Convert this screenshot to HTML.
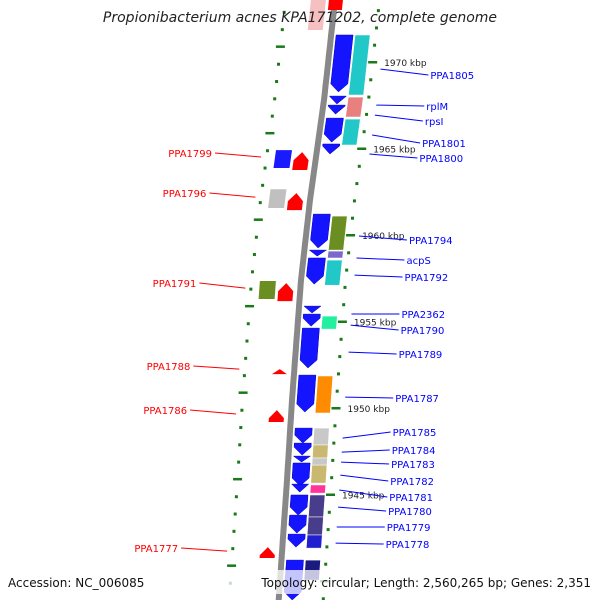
<!DOCTYPE html>
<html><head><meta charset="utf-8"><style>
html,body{margin:0;padding:0;background:#fff}
svg{display:block;font-family:"DejaVu Sans","Liberation Sans",sans-serif}
</style></head><body>
<svg id="map" width="600" height="600" viewBox="0 0 600 600">
<g id="ticks"></g>
<path id="backbone" fill="none" stroke="#888" stroke-width="6"/>
<g id="genes"></g>
<g id="labels"></g>
<text x="300" y="22" text-anchor="middle" font-size="14" font-style="italic" fill="#222">Propionibacterium acnes KPA171202, complete genome</text>
<rect x="0" y="570" width="600" height="24" fill="#fff" fill-opacity="0.75"/>
<text x="8" y="587" font-size="12" fill="#111">Accession: NC_006085</text>
<text x="591" y="587" font-size="12" text-anchor="end" fill="#111">Topology: circular; Length: 2,560,265 bp; Genes: 2,351</text>
</svg>
<script>
// reverse-strand genes (kbp)
const revStart=[1971.56,1968.03,1967.51,1966.76,1965.26,1961.21,1959.13,1958.67,1955.89,1955.43,1954.62,1951.90,1948.84,1947.97,1947.22,1946.82,1945.60,1944.97,1943.81,1942.71,1941.21];
const revEnd  =[1968.27,1967.57,1966.99,1965.37,1964.68,1959.25,1958.78,1957.16,1955.49,1954.73,1952.31,1949.77,1947.97,1947.28,1946.88,1945.49,1945.14,1943.81,1942.77,1941.96,1938.90];
// reverse-strand feature boxes (kbp)
const boxStart=[1971.56,1967.97,1966.70,1961.09,1959.07,1958.55,1955.31,1951.85,1948.84,1947.86,1947.11,1946.70,1945.55,1944.97,1943.70,1942.66,1941.21];
const boxEnd  =[1968.09,1966.82,1965.20,1959.13,1958.67,1957.10,1954.56,1949.71,1947.86,1947.11,1946.70,1945.66,1945.08,1943.70,1942.66,1941.90,1940.05];
const boxColor=["#22c8c8","#e88080","#22c8c8","#6b8e23","#7b68cc","#22c8c8","#22f0a0","#ff8c00","#c8c8c8","#c8b870","#c8c8c8","#c8b870","#ff3399","#483d8b","#483d8b","#2020d0","#1a1a80"];
// forward-strand genes (kbp)
const fwdStart=[1964.79,1962.42,1957.22,1952.25,1949.88,1941.96];
const fwdEnd  =[1963.76,1961.44,1956.18,1951.96,1949.19,1941.33];
// forward-strand feature boxes
const fboxStart=[1964.91,1962.65,1957.34];
const fboxEnd  =[1963.87,1961.56,1956.30];
const fboxColor=["#1a1aff","#c0c0c0","#6b8e23"];
const kbpLabels=[1970,1965,1960,1955,1950,1945];
const rightLabels=["PPA1805","rplM","rpsI","PPA1801","PPA1800","PPA1794","acpS","PPA1792","PPA2362","PPA1790","PPA1789","PPA1787","PPA1785","PPA1784","PPA1783","PPA1782","PPA1781","PPA1780","PPA1779","PPA1778"];
const rightLabelKbp=[1969.59,1967.51,1966.93,1965.78,1964.68,1959.94,1958.67,1957.68,1955.43,1954.79,1953.23,1950.63,1948.26,1947.45,1946.87,1946.12,1945.26,1944.27,1943.12,1942.19];
const rightTextY=[75,106,121,143,158,240,260,277,314,330,354,398,432,450,464,481,497,511,527,544];
const leftLabels=["PPA1799","PPA1796","PPA1791","PPA1788","PPA1786","PPA1777"];
const leftLabelKbp=[1964.51,1962.19,1956.93,1952.25,1949.65,1941.73];
const leftTextY=[153,193,283,366,410,548];

const NS='http://www.w3.org/2000/svg';
const BY=[-10,0,100,200,280,400,480,610],BX=[336,335,324,310,301,292,287,278];
function yOf(k){return 62+(1970-k)*17.3;}
function xOf(y){for(let i=0;i<BY.length-1;i++){if(y<=BY[i+1]||i===BY.length-2){const t=(y-BY[i])/(BY[i+1]-BY[i]);return BX[i]+t*(BX[i+1]-BX[i]);}}}
function mk(tag,attrs,parent){const e=document.createElementNS(NS,tag);for(const k in attrs)e.setAttribute(k,attrs[k]);parent.appendChild(e);return e;}
const G=document.getElementById('genes'),T=document.getElementById('ticks'),L=document.getElementById('labels');

let d='';for(let y=-5;y<=605;y+=5){d+=(y===-5?'M':'L')+xOf(y).toFixed(1)+' '+y;}
document.getElementById('backbone').setAttribute('d',d);

function pt(y,o){return (xOf(y)+o).toFixed(1)+','+y.toFixed(1);}
function arrowDown(y1,y2,a,b){const h=Math.min(8,y2-y1);const m=(a+b)/2,yh=y2-h;
 return [pt(y1,a),pt(y1,b),pt(yh,b),pt(y2,m),pt(yh,a)].join(' ');}
function arrowUp(y1,y2,a,b){const h=Math.min(8,y2-y1);const m=(a+b)/2,yh=y1+h;
 return [pt(y1,m),pt(yh,b),pt(y2,b),pt(y2,a),pt(yh,a)].join(' ');}
function box(y1,y2,a,b){return [pt(y1,a),pt(y1,b),pt(y2,b),pt(y2,a)].join(' ');}

for(let k=1939;k<=1973;k++){
 const y=yOf(k);
 const big=k%5===0;
 const r=mk('rect',{x:xOf(y)+44-(big?4:1),y:y-1,width:big?9:3,height:big?2.5:3,fill:'#1a7a1a'},T);
 
 
 const yl=yOf(k+0.9);
 const l=mk('rect',{x:xOf(yl)-50-(big?4:1),y:yl-1,width:big?9:3,height:big?2.5:3,fill:'#1a7a1a'},T);
 
 
}
kbpLabels.forEach(k=>{const y=yOf(k);
 const t=mk('text',{x:xOf(y)+56,y:y+4,'font-size':9,fill:'#222'},T);t.textContent=k+' kbp';
 
 });

revStart.forEach((s,i)=>{const y1=yOf(s),y2=yOf(revEnd[i]);
 const p=mk('polygon',{points:arrowDown(y1,y2,5,22),fill:'#1414ff',stroke:'#0000c0','stroke-width':0.5},G);
 
 });
boxStart.forEach((s,i)=>{const y1=yOf(s),y2=yOf(boxEnd[i]);
 const p=mk('polygon',{points:box(y1,y2,24,39),fill:boxColor[i],stroke:'#fff','stroke-width':0.5},G);
 
 });
fwdStart.forEach((s,i)=>{const y1=yOf(s),y2=yOf(fwdEnd[i]);
 const p=mk('polygon',{points:arrowUp(y1,y2,-22,-7),fill:'#ff0000'},G);
 
 });
fboxStart.forEach((s,i)=>{const y1=yOf(s),y2=yOf(fboxEnd[i]);
 const p=mk('polygon',{points:box(y1,y2,-41,-25),fill:fboxColor[i]},G);
 
 });
const tf=mk('polygon',{points:box(-5,30,-24,-9),fill:'#f7c0c0'},G);


const tg=mk('polygon',{points:box(-5,10,-6,8),fill:'#ff0000'},G);



rightLabels.forEach((n,i)=>{const y=yOf(rightLabelKbp[i]);const x0=xOf(y)+53;const ty=rightTextY[i];
 const ln=mk('line',{x1:x0,y1:y,x2:x0+48,y2:ty,stroke:'#0000ff','stroke-width':1},L);
 
 
 const t=mk('text',{x:x0+50,y:ty+4,'font-size':10,fill:'#0000ff'},L);t.textContent=n;
 
 });
leftLabels.forEach((n,i)=>{const y=yOf(leftLabelKbp[i]);const x0=xOf(y)-55;const ty=leftTextY[i];
 const ln=mk('line',{x1:x0,y1:y,x2:x0-46,y2:ty,stroke:'#ff0000','stroke-width':1},L);
 
 
 const t=mk('text',{x:x0-49,y:ty+4,'font-size':10,fill:'#ff0000','text-anchor':'end'},L);t.textContent=n;
 
 });
</script>
</body></html>
